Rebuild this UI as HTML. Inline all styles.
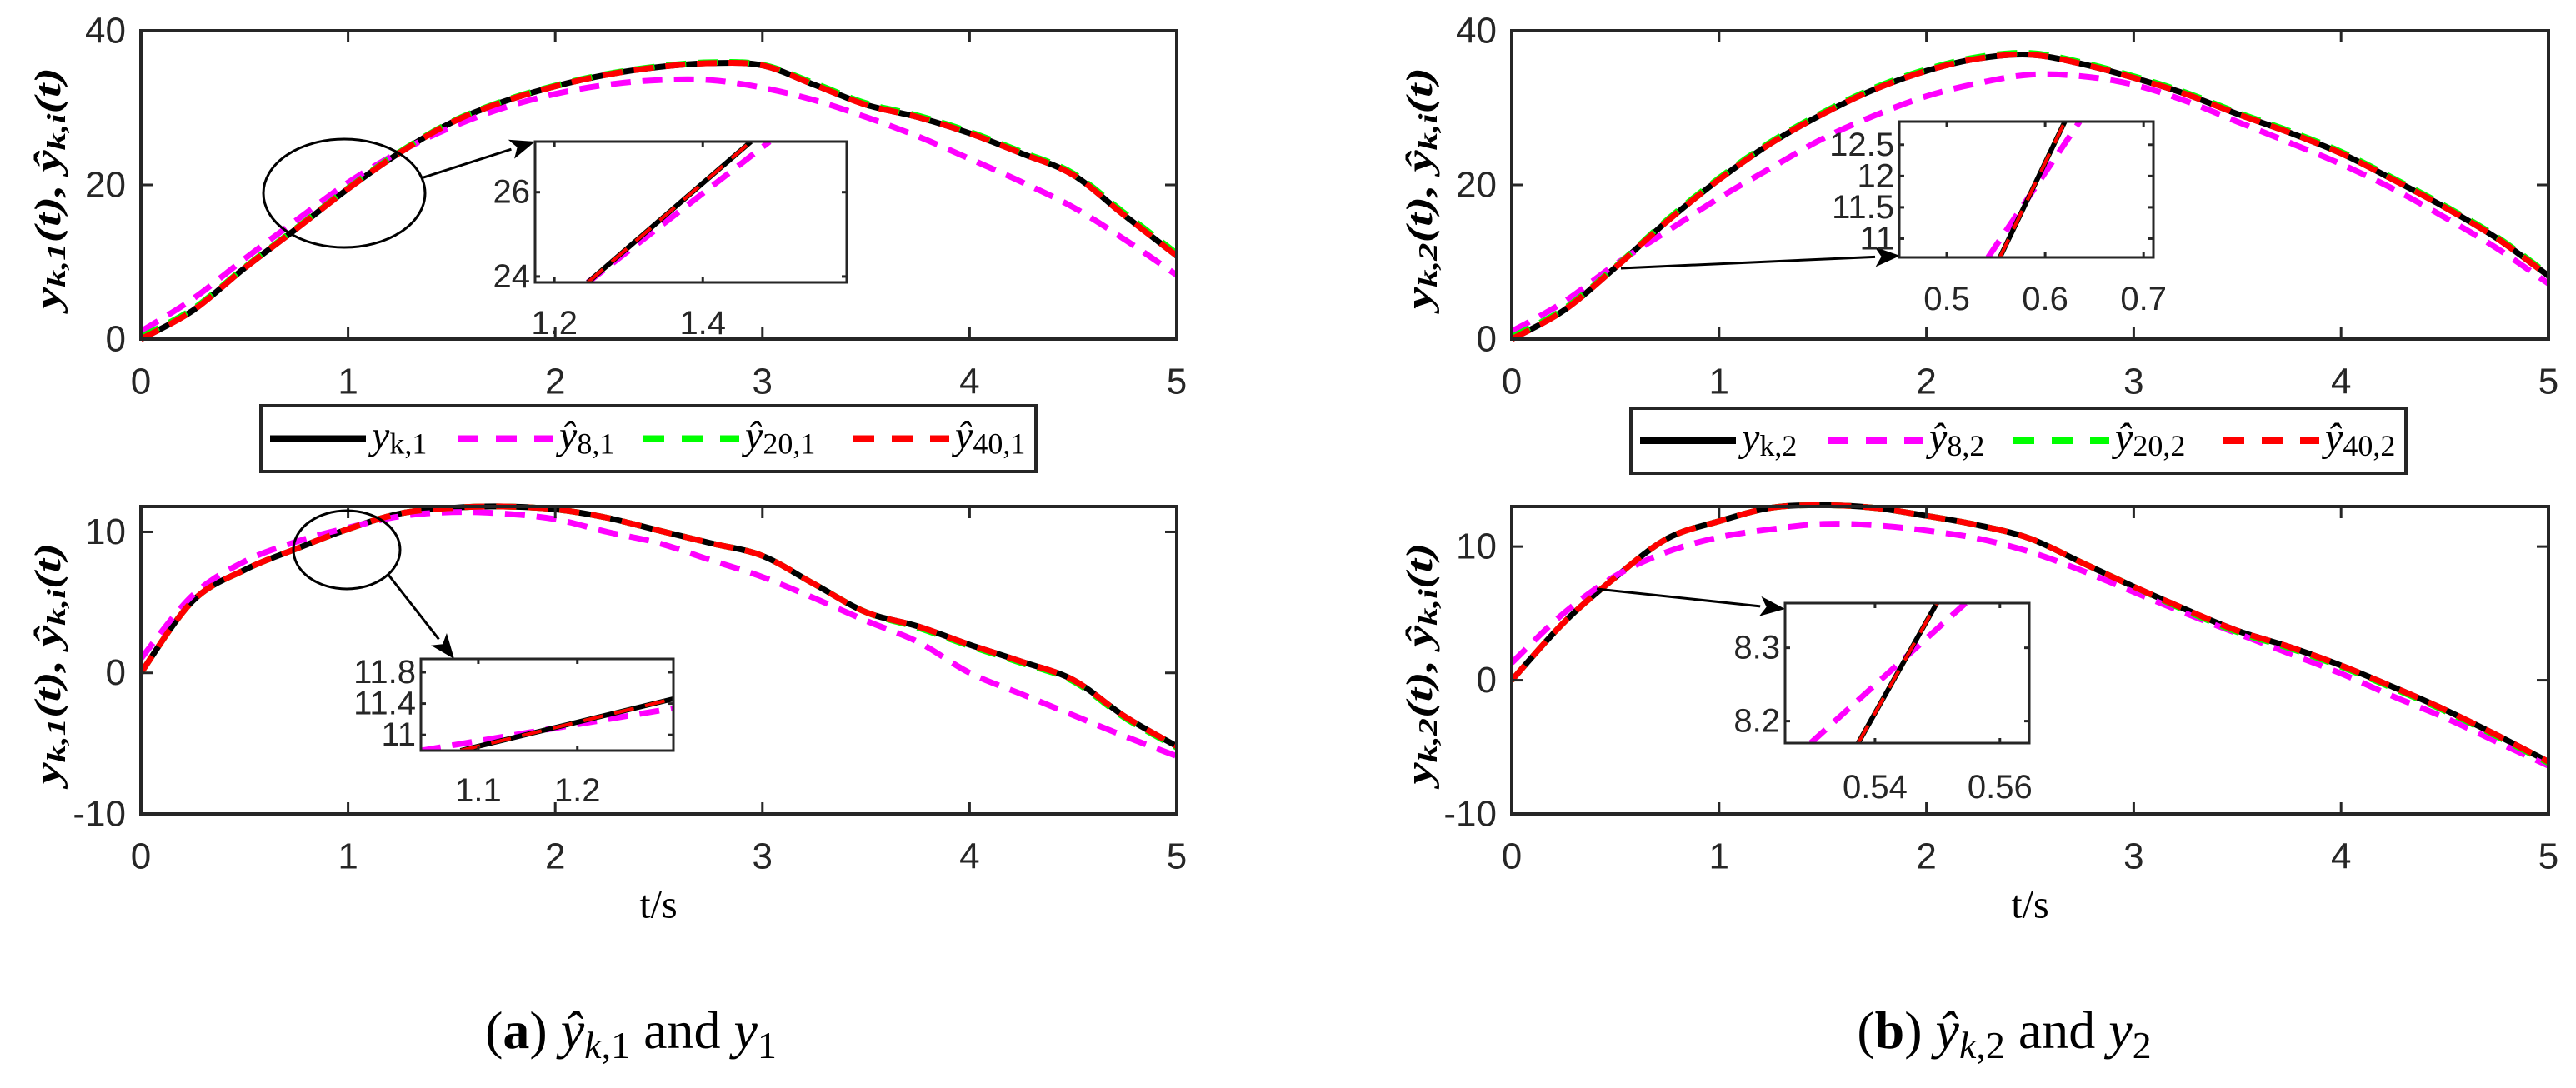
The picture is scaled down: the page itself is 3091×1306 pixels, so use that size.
<!DOCTYPE html>
<html><head><meta charset="utf-8">
<style>
html,body{margin:0;padding:0;background:#fff;}
svg{display:block;}
text{font-family:"Liberation Sans",sans-serif;fill:#262626;}
.m{font-family:"Liberation Serif",serif;font-style:italic;fill:#000;}
.s{font-family:"Liberation Serif",serif;fill:#000;}
</style></head>
<body>
<svg id="fig" width="3091" height="1306" viewBox="0 0 3091 1306" xmlns="http://www.w3.org/2000/svg"></svg>
<script>
// ---- data ----
const tMain = [0,0.25,0.5,0.75,1,1.25,1.5,1.75,2,2.25,2.5,2.75,3,3.25,3.5,3.75,4,4.25,4.5,4.75,5];
const xTicks = [0,1,2,3,4,5];
// panel a-top (y1)
const y1Actual = [0,3.7,9.2,14.3,19.5,24.2,28.1,30.8,32.8,34.3,35.3,35.8,35.5,33.0,30.4,28.8,26.7,24.1,21.3,16.0,10.8];
const y1Est8   = [1.0,5.2,10.4,15.4,20.3,24.3,27.5,30.0,31.8,33.0,33.6,33.6,32.6,31.0,28.8,26.3,23.4,20.4,17.1,12.9,8.3];
const y1Est20  = [0.3,3.9,9.3,14.4,19.6,24.3,28.2,30.9,32.9,34.4,35.4,35.9,35.6,33.2,30.6,29.0,26.9,24.3,21.5,16.3,11.1];
const y1Est40  = [0,3.7,9.2,14.3,19.5,24.2,28.1,30.8,32.8,34.3,35.3,35.8,35.5,33.0,30.4,28.8,26.7,24.1,21.3,16.0,10.8];
const y1Ticks = [0,20,40];
// panel b-top (y2)
const y2Actual = [0,3.7,9.3,15.3,20.7,25.4,29.2,32.4,34.8,36.4,36.9,35.7,33.9,31.8,29.2,26.8,24.1,20.7,17.1,13.1,8.2];
const y2Est8   = [1.0,4.8,9.7,14.0,18.3,22.2,26.0,29.0,31.5,33.2,34.3,34.1,33.0,30.9,28.2,25.5,22.7,19.5,15.8,11.8,7.2];
const y2Est20  = [0.3,3.9,9.4,15.5,20.9,25.6,29.4,32.6,35.0,36.6,37.1,35.9,34.1,32.0,29.4,27.0,24.3,20.9,17.3,13.3,8.4];
const y2Est40  = [0,3.7,9.3,15.3,20.7,25.4,29.2,32.4,34.8,36.4,36.9,35.7,33.9,31.8,29.2,26.8,24.1,20.7,17.1,13.1,8.2];
// panel a-bottom (dy1)
const d1Actual = [0,5.1,7.3,8.8,10.2,11.3,11.7,11.8,11.6,11.0,10.1,9.2,8.3,6.3,4.3,3.3,2.0,0.8,-0.5,-3.1,-5.2];
const d1Est8   = [1.0,5.5,7.9,9.3,10.3,11.1,11.4,11.3,10.9,10.0,9.2,8.0,6.8,5.3,3.7,2.2,0.0,-1.5,-3.0,-4.5,-5.9];
const d1Est20  = [0,5.1,7.3,8.8,10.2,11.3,11.7,11.8,11.6,11.0,10.1,9.2,8.3,6.3,4.3,3.2,1.9,0.7,-0.6,-3.2,-5.3];
const d1Est40  = [0,5.1,7.3,8.8,10.2,11.3,11.7,11.8,11.6,11.0,10.1,9.2,8.3,6.3,4.3,3.3,2.0,0.8,-0.5,-3.1,-5.2];
const d1Ticks = [-10,0,10];
// panel b-bottom (dy2)
const d2Actual = [0,4.3,7.7,10.6,11.9,12.9,13.1,12.9,12.3,11.6,10.6,8.8,7.0,5.3,3.7,2.5,1.1,-0.5,-2.2,-4.1,-6.1];
const d2Est8   = [1.3,5.0,7.8,9.6,10.7,11.3,11.7,11.6,11.2,10.6,9.6,8.2,6.6,5.0,3.5,2.0,0.5,-1.2,-2.8,-4.6,-6.4];
const d2Est20  = [0,4.3,7.7,10.6,11.9,12.9,13.1,12.9,12.3,11.6,10.6,8.8,7.0,5.2,3.6,2.4,1.0,-0.6,-2.3,-4.2,-6.2];
const d2Est40  = [0,4.3,7.7,10.6,11.9,12.9,13.1,12.9,12.3,11.6,10.6,8.8,7.0,5.3,3.7,2.5,1.1,-0.5,-2.2,-4.1,-6.1];
// insets
const inA1t = [1.245,1.465]; const inA1y = [23.86,27.2]; const inA1t8 = [1.245,1.49];
const inA1xt = [1.2,1.4]; const inA1yt = [24,26];
const inB1t = [0.554,0.620]; const inB1y = [10.7,12.87]; const inB1t8 = [0.542,0.635];
const inB1xt = [0.5,0.6,0.7]; const inB1yt = [11,11.5,12,12.5];
const inA2t = [1.082,1.297]; const inA2y = [10.8,11.46]; const inA2t8 = [1.042,1.297]; const inA2y8 = [10.8,11.34];
const inA2xt = [1.1,1.2]; const inA2yt = [11,11.4,11.8];
const inB2t = [0.5373,0.5499]; const inB2y = [8.17,8.361]; const inB2t8 = [0.5297,0.5545];
const inB2xt = [0.54,0.56]; const inB2yt = [8.2,8.3];

const NS = "http://www.w3.org/2000/svg";
const svg = document.getElementById('fig');
function el(tag, attrs, parent){
  const e = document.createElementNS(NS, tag);
  for (const k in attrs) e.setAttribute(k, attrs[k]);
  (parent||svg).appendChild(e);
  return e;
}
function scale(d0,d1,r0,r1){ return v => r0 + (v-d0)/(d1-d0)*(r1-r0); }

const COLORS = {k:'#000000', m:'#ff00ff', g:'#00ff00', r:'#ff0000'};

function drawLine(g, xs, ys, sx, sy, color, dash, w, name, smooth){
  const P = xs.map((t,i)=>[sx(t), sy(ys[i])]);
  let d = 'M'+P[0][0].toFixed(1)+','+P[0][1].toFixed(1);
  for (let i=0;i<P.length-1;i++){
    if (!smooth){ d += ' L'+P[i+1][0].toFixed(1)+','+P[i+1][1].toFixed(1); continue; }
    const p0 = P[Math.max(i-1,0)], p1 = P[i], p2 = P[i+1], p3 = P[Math.min(i+2,P.length-1)];
    const c1x = p1[0]+(p2[0]-p0[0])/6, c1y = p1[1]+(p2[1]-p0[1])/6;
    const c2x = p2[0]-(p3[0]-p1[0])/6, c2y = p2[1]-(p3[1]-p1[1])/6;
    d += ' C'+c1x.toFixed(1)+','+c1y.toFixed(1)+' '+c2x.toFixed(1)+','+c2y.toFixed(1)+' '+p2[0].toFixed(1)+','+p2[1].toFixed(1);
  }
  const p = el('path', {d:d, fill:'none', stroke:color, 'stroke-width':w, 'stroke-linejoin':'round'}, g);
  if (dash) p.setAttribute('stroke-dasharray', dash);
  
  
  return p;
}

function axesBox(g, L, R, T, B, xt, yt, sx, sy, tl, fs, xLabY, yLabX, nameP){
  for (const t of xt){
    const x = sx(t);
    const a = el('line',{x1:x,x2:x,y1:B,y2:B-tl,stroke:'#262626','stroke-width':3},g);
    
    
    el('line',{x1:x,x2:x,y1:T,y2:T+tl,stroke:'#262626','stroke-width':3},g);
    const lb = el('text',{x:x,y:xLabY,'font-size':fs,'text-anchor':'middle','dominant-baseline':'central'},g);
    lb.textContent = String(t);
    
    
  }
  for (const v of yt){
    const y = sy(v);
    el('line',{x1:L,x2:L+tl,y1:y,y2:y,stroke:'#262626','stroke-width':3},g);
    el('line',{x1:R,x2:R-tl,y1:y,y2:y,stroke:'#262626','stroke-width':3},g);
    const lb = el('text',{x:yLabX,y:y,'font-size':fs,'text-anchor':'end','dominant-baseline':'central'},g);
    lb.textContent = String(v);
    
    
  }
}

let clipId = 0;
function panel(cfg){
  const g = el('g',{});
  
  
  const {L,R,T,B} = cfg;
  const sx = scale(0,5,L,R), sy = scale(cfg.ymin,cfg.ymax,B,T);
  const cid = 'c'+(clipId++);
  const cp = el('clipPath',{id:cid},g);
  el('rect',{x:L,y:T-6,width:R-L,height:B-T+12},cp);
  const dg = el('g',{'clip-path':'url(#'+cid+')'},g);
  drawLine(dg, tMain, cfg.act, sx, sy, COLORS.k, null, 7, 'series-actual', true);
  drawLine(dg, tMain, cfg.e8, sx, sy, COLORS.m, '24 14', 7, 'series-est-8', true);
  drawLine(dg, tMain, cfg.e20, sx, sy, COLORS.g, '24 14', 7, 'series-est-20', true);
  drawLine(dg, tMain, cfg.e40, sx, sy, COLORS.r, '24 14', 7, 'series-est-40', true);
  axesBox(g, L,R,T,B, xTicks, cfg.yt, sx, sy, 14, 44, cfg.xLabY, L-18, cfg.name);
  const box = el('rect',{x:L,y:T,width:R-L,height:B-T,fill:'none',stroke:'#262626','stroke-width':4},g);
  
  
  const yl = el('text',{x:0,y:0,'font-size':44,'font-weight':'bold','text-anchor':'middle','dominant-baseline':'central',transform:'translate('+cfg.ylx+','+((T+B)/2+4)+') rotate(-90)',class:'m',textLength:290,lengthAdjust:'spacingAndGlyphs'},g);
  yl.innerHTML = 'y<tspan font-size="32" dy="10">k,'+cfg.idx+'</tspan><tspan dy="-10">(t), ŷ</tspan><tspan font-size="32" dy="10">k,i</tspan><tspan dy="-10">(t)</tspan>';
  
  
  return {g,sx,sy};
}

function inset(cfg){
  const g = el('g',{});
  
  
  const {L,R,T,B} = cfg;
  const sx = scale(cfg.xmin,cfg.xmax,L,R), sy = scale(cfg.ymin,cfg.ymax,B,T);
  el('rect',{x:L,y:T,width:R-L,height:B-T,fill:'#fff'},g);
  const cid = 'c'+(clipId++);
  const cp = el('clipPath',{id:cid},g);
  el('rect',{x:L,y:T,width:R-L,height:B-T},cp);
  const dg = el('g',{'clip-path':'url(#'+cid+')'},g);
  drawLine(dg, cfg.t8, cfg.y8, sx, sy, COLORS.m, '24 14', 7, 'inset-est-8', false);
  drawLine(dg, cfg.t, cfg.y, sx, sy, COLORS.k, null, 6, 'inset-actual', false);
  drawLine(dg, cfg.t, cfg.y, sx, sy, COLORS.g, '24 14', 4, 'inset-est-20', false);
  drawLine(dg, cfg.t, cfg.y, sx, sy, COLORS.r, '24 14', 4, 'inset-est-40', false);
  axesBox(g, L,R,T,B, cfg.xt, cfg.yt, sx, sy, 6, 40, cfg.xLabY, L-6, cfg.name);
  el('rect',{x:L,y:T,width:R-L,height:B-T,fill:'none',stroke:'#262626','stroke-width':3},g);
}

function arrow(x1,y1,x2,y2,name){
  const g = el('g',{});
  
  
  const ang = Math.atan2(y2-y1,x2-x1), hl = 30, hw = 12;
  const bx = x2 - hl*Math.cos(ang), by = y2 - hl*Math.sin(ang);
  el('line',{x1:x1,y1:y1,x2:bx,y2:by,stroke:'#000','stroke-width':3},g);
  const px = -Math.sin(ang), py = Math.cos(ang);
  el('polygon',{points:x2+','+y2+' '+(bx+hw*px)+','+(by+hw*py)+' '+(bx+hl*0.25*Math.cos(ang))+','+(by+hl*0.25*Math.sin(ang))+' '+(bx-hw*px)+','+(by-hw*py),fill:'#000'},g);
}
function ellipse(cx,cy,rx,ry,name){
  const e = el('ellipse',{cx:cx,cy:cy,rx:rx,ry:ry,fill:'none',stroke:'#000','stroke-width':3});
  
  
}

function legend(x0,y0,x1,y1,idx,name){
  const g = el('g',{});
  
  
  el('rect',{x:x0,y:y0,width:x1-x0,height:y1-y0,fill:'#fff',stroke:'#262626','stroke-width':4},g);
  const cy = (y0+y1)/2;
  const sc = (x1-x0)/930;
  const entries = [
    {c:COLORS.k,d:null,lbl:'y',sub:'k,'+idx},
    {c:COLORS.m,d:'25 21',lbl:'ŷ',sub:'8,'+idx},
    {c:COLORS.g,d:'25 21',lbl:'ŷ',sub:'20,'+idx},
    {c:COLORS.r,d:'25 21',lbl:'ŷ',sub:'40,'+idx}];
  const starts = [11,236,459,711];
  entries.forEach((e,i)=>{
    const ex = x0 + starts[i]*sc;
    const ge = el('g',{},g);
    
    
    const ln = el('line',{x1:ex,x2:ex+115,y1:cy,y2:cy,stroke:e.c,'stroke-width':8},ge);
    if (e.d) ln.setAttribute('stroke-dasharray', e.d);
    const t = el('text',{x:ex+122,y:cy+12,'font-size':48,class:'m'},ge);
    t.innerHTML = e.lbl+'<tspan font-size="36" dy="6" font-style="normal">'+e.sub+'</tspan>';
  });
}

// ---- layout ----
const LX = [169,1412], RX = [1814,3058];
const TOP = [37,407], BOT = [608,977];

panel({name:'plot-y1',L:LX[0],R:LX[1],T:TOP[0],B:TOP[1],ymin:0,ymax:40,yt:y1Ticks,act:y1Actual,e8:y1Est8,e20:y1Est20,e40:y1Est40,xLabY:458,ylx:57,idx:1});
panel({name:'plot-y2',L:RX[0],R:RX[1],T:TOP[0],B:TOP[1],ymin:0,ymax:40,yt:y1Ticks,act:y2Actual,e8:y2Est8,e20:y2Est20,e40:y2Est40,xLabY:458,ylx:1703,idx:2});
panel({name:'plot-dy1',L:LX[0],R:LX[1],T:BOT[0],B:BOT[1],ymin:-10,ymax:11.8,yt:d1Ticks,act:d1Actual,e8:d1Est8,e20:d1Est20,e40:d1Est40,xLabY:1028,ylx:57,idx:1});
panel({name:'plot-dy2',L:RX[0],R:RX[1],T:BOT[0],B:BOT[1],ymin:-10,ymax:13,yt:d1Ticks,act:d2Actual,e8:d2Est8,e20:d2Est20,e40:d2Est40,xLabY:1028,ylx:1703,idx:2});

ellipse(413,232,97,65,'zoom-ellipse-a1');
arrow(505,214,642,170,'zoom-arrow-a1');
arrow(1945,322,2280,307,'zoom-arrow-b1');
ellipse(416,660,64,47,'zoom-ellipse-a2');
arrow(466,690,545,791,'zoom-arrow-a2');
arrow(1916,707,2142,731,'zoom-arrow-b2');

inset({name:'inset-a1',L:642,R:1016,T:170,B:339,xmin:1.174,xmax:1.594,ymin:23.86,ymax:27.2,t:inA1t,y:inA1y,t8:inA1t8,y8:inA1y,xt:inA1xt,yt:inA1yt,xLabY:388});
inset({name:'inset-b1',L:2279,R:2584,T:146,B:309,xmin:0.4517,xmax:0.710,ymin:10.7,ymax:12.87,t:inB1t,y:inB1y,t8:inB1t8,y8:inB1y,xt:inB1xt,yt:inB1yt,xLabY:359});
inset({name:'inset-a2',L:505,R:808,T:791,B:901,xmin:1.042,xmax:1.297,ymin:10.8,ymax:11.97,t:inA2t,y:inA2y,t8:inA2t8,y8:inA2y8,xt:inA2xt,yt:inA2yt,xLabY:949});
inset({name:'inset-b2',L:2142,R:2435,T:724,B:892,xmin:0.5256,xmax:0.5647,ymin:8.17,ymax:8.361,t:inB2t,y:inB2y,t8:inB2t8,y8:inB2y,xt:inB2xt,yt:inB2yt,xLabY:945});

legend(313,487,1243,566,1,'legend-a');
legend(1957,490,2887,568,2,'legend-b');

[[790,'x-axis-title-a'],[2436,'x-axis-title-b']].forEach(([x,n])=>{
  const t = el('text',{x:x,y:1086,'font-size':48,'text-anchor':'middle','dominant-baseline':'central',class:'s'});
  t.textContent = 't/s';
  
  
});
[[757,'a',1],[2405,'b',2]].forEach(([x,l,i])=>{
  const t = el('text',{x:x,y:1258,'font-size':64,'text-anchor':'middle',class:'s'});
  t.innerHTML = '(<tspan font-weight="bold">'+l+'</tspan>) <tspan font-style="italic">ŷ</tspan><tspan font-style="italic" font-size="46" dy="12">k</tspan><tspan font-size="46">,'+i+'</tspan><tspan dy="-12"> and </tspan><tspan font-style="italic">y</tspan><tspan font-size="46" dy="12">'+i+'</tspan>';
  
  
});
</script>
</body></html>
